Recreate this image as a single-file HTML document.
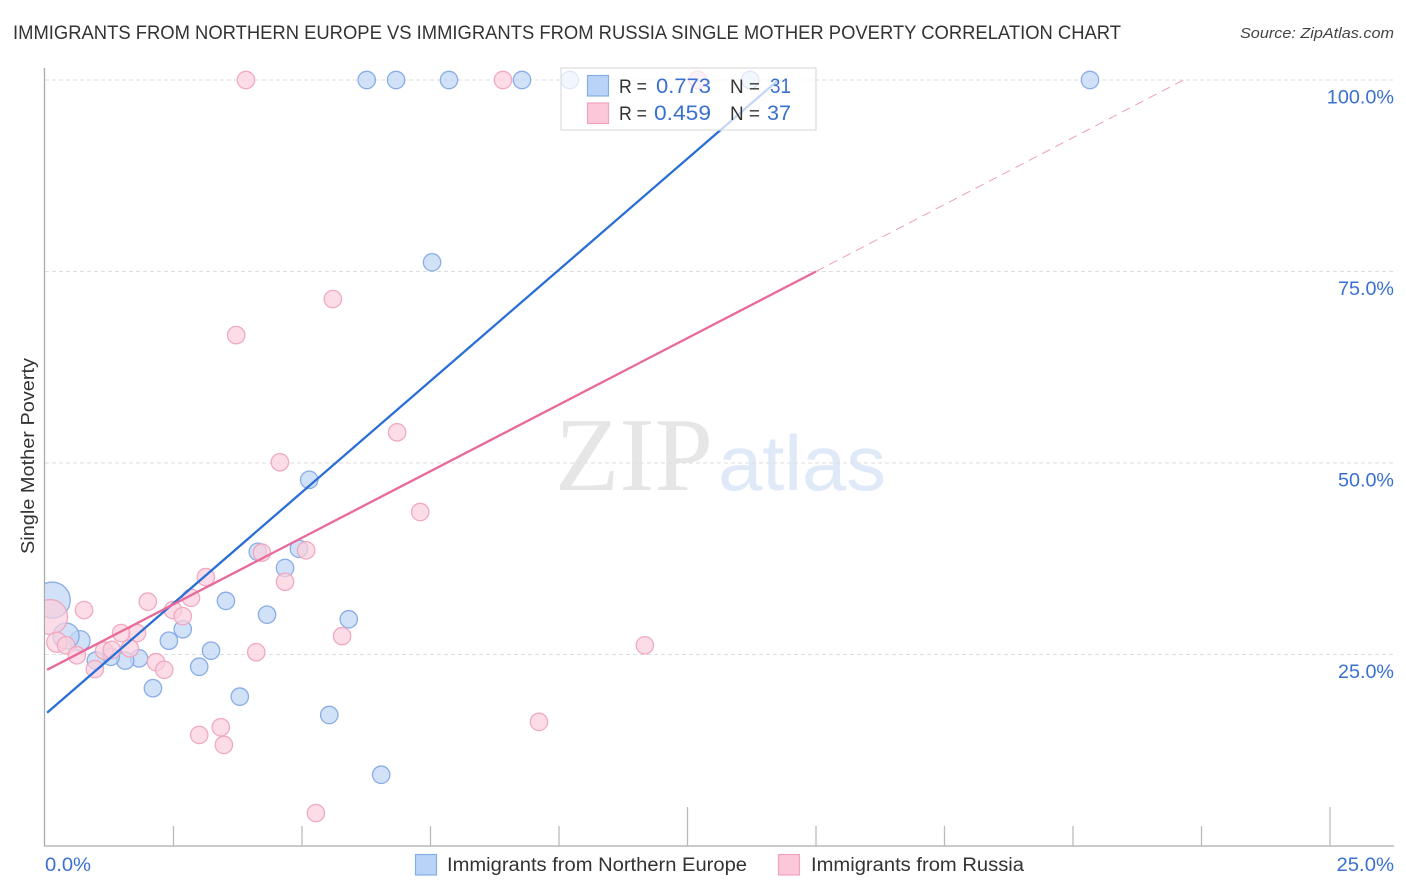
<!DOCTYPE html>
<html lang="en">
<head>
<meta charset="utf-8">
<title>Immigrants from Northern Europe vs Immigrants from Russia Single Mother Poverty Correlation Chart</title>
<style>
html,body{margin:0;padding:0;background:#fff;}
svg{display:block;font-family:"Liberation Sans",sans-serif;}
</style>
</head>
<body>
<svg id="chart" xmlns="http://www.w3.org/2000/svg" width="1406" height="892" viewBox="0 0 1406 892">
  <defs>
    <clipPath id="plot-clip"><rect x="45" y="60" width="1349" height="786"></rect></clipPath>
  </defs>
  <rect x="0" y="0" width="1406" height="892" fill="#ffffff"></rect>
  <text x="13" y="39" font-size="19" fill="#333333" textLength="1108" lengthAdjust="spacingAndGlyphs">IMMIGRANTS FROM NORTHERN EUROPE VS IMMIGRANTS FROM RUSSIA SINGLE MOTHER POVERTY CORRELATION CHART</text>
  <text x="1394" y="38" font-size="15" font-style="italic" fill="#444444" text-anchor="end" textLength="154" lengthAdjust="spacingAndGlyphs">Source: ZipAtlas.com</text>
  <g>
    <text x="555" y="490" font-family="'Liberation Serif',serif" font-size="105" fill="#e6e6e6" textLength="158" lengthAdjust="spacingAndGlyphs">ZIP</text>
    <text x="718" y="490" font-size="78" fill="#dfe9f8" textLength="168" lengthAdjust="spacingAndGlyphs">atlas</text>
  </g>
  <g id="grid"></g>
  <g id="axes"></g>
  <g id="points" clip-path="url(#plot-clip)"></g>
  <g id="trends"></g>
  <g id="tick-labels"></g>
  <text transform="translate(34,456) rotate(-90)" font-size="18.5" fill="#333333" text-anchor="middle" textLength="196" lengthAdjust="spacingAndGlyphs">Single Mother Poverty</text>

  <g>
    <rect x="561" y="68" width="255" height="62" fill="#ffffff" fill-opacity="0.72" stroke="#dddddd" stroke-width="1.2"></rect>
    <rect x="587.5" y="75.5" width="21" height="20.5" fill="#b9d3f6" stroke="#86aee6" stroke-width="1.2"></rect>
    <rect x="587.5" y="103" width="21" height="20.5" fill="#fcc8d9" stroke="#f0a3bd" stroke-width="1.2"></rect>
    <text x="619" y="93" font-size="19" fill="#333333" textLength="28" lengthAdjust="spacingAndGlyphs">R =</text>
    <text x="656" y="93" font-size="21" fill="#3a70d0" textLength="55" lengthAdjust="spacingAndGlyphs">0.773</text>
    <text x="730" y="93" font-size="19" fill="#333333" textLength="30" lengthAdjust="spacingAndGlyphs">N =</text>
    <text x="770" y="93" font-size="21" fill="#3a70d0" textLength="21" lengthAdjust="spacingAndGlyphs">31</text>
    <text x="619" y="120" font-size="19" fill="#333333" textLength="28" lengthAdjust="spacingAndGlyphs">R =</text>
    <text x="654" y="120" font-size="21" fill="#3a70d0" textLength="57" lengthAdjust="spacingAndGlyphs">0.459</text>
    <text x="730" y="120" font-size="19" fill="#333333" textLength="30" lengthAdjust="spacingAndGlyphs">N =</text>
    <text x="767" y="120" font-size="21" fill="#3a70d0" textLength="24" lengthAdjust="spacingAndGlyphs">37</text>
  </g>

  <g>
    <g>
      <rect x="415.5" y="854.5" width="21" height="20.5" fill="#b9d3f6" stroke="#86aee6" stroke-width="1.2"></rect>
      <text x="447" y="871" font-size="19" fill="#333333" textLength="300" lengthAdjust="spacingAndGlyphs">Immigrants from Northern Europe</text>
    </g>
    <g>
      <rect x="778.5" y="854.5" width="21" height="20.5" fill="#fcc8d9" stroke="#f0a3bd" stroke-width="1.2"></rect>
      <text x="811" y="871" font-size="19" fill="#333333" textLength="213" lengthAdjust="spacingAndGlyphs">Immigrants from Russia</text>
    </g>
  </g>
</svg>
<script>
const blueX = [6.26,6.83,7.86,9.28,10.21,12.70,13.72,20.33,7.53,5.14,4.14,4.94,4.67,3.52,4.32,5.91,2.68,2.41,3.23,3.00,1.83,1.56,1.28,0.99,0.68,0.41,0.14,2.10,3.79,5.53,6.54];
const blueY = [100,100,100,100,100,100,100,100,76.2,47.8,38.4,38.8,36.3,32.0,30.2,29.6,28.3,26.8,25.5,23.4,24.5,24.2,24.7,24.2,26.8,27.4,32.1,20.6,19.5,17.1,9.3];
const blueWeight = [1,1,1,1,1,1,1,1,1,1,1,1,1,1,1,1,1,1,1,1,1,1,1,1,1.35,2.25,4.3,1,1,1,1];

const pinkX = [3.91,8.91,12.70,5.60,3.72,6.85,4.57,7.30,4.22,5.08,4.67,3.13,2.84,2.00,0.76,2.49,2.68,1.79,1.48,5.78,11.67,4.11,0.10,0.23,0.41,0.62,0.97,1.15,1.30,1.65,2.16,2.32,3.00,3.42,3.48,5.27,9.61];
const pinkY = [100,100,100,71.4,66.7,54.0,50.1,43.6,38.3,38.6,34.5,35.1,32.4,31.9,30.8,30.8,30.0,27.8,27.8,27.4,26.2,25.3,29.9,26.6,26.2,24.9,23.1,25.5,25.6,25.8,24.0,23.0,14.5,15.5,13.2,4.3,16.2];
const pinkWeight = [1,1,1,1,1,1,1,1,1,1,1,1,1,1,1,1,1,1,1,1,1,1,4,1.35,1,1,1,1,1,1,1,1,1,1,1,1,1];

const blueTrendX = [0.04,14.25];
const blueTrendY = [17.4,99.9];
const pinkTrendX = [0.04,15];
const pinkTrendY = [23.0,75];
const pinkDashX = [15,22.15];
const pinkDashY = [75,100];

const yTicks = [25,50,75,100];
const yTickLabels = ["25.0%","50.0%","75.0%","100.0%"];
const xTicks = [2.5,5,7.5,10,12.5,15,17.5,20,22.5,25];
const xMajorTicks = [12.5,25];
const xEndTicks = [0,25];
const xEndLabels = ["0.0%","25.0%"];

const NS = "http://www.w3.org/2000/svg";
function xScale(v){ return 45 + v * 51.4; }
function yScale(v){ return 846 - v * 7.66; }
function rScale(w){ return 8.7 * Math.sqrt(w); }
function make(tag, attrs, parent){
  const el = document.createElementNS(NS, tag);
  for (const k in attrs) el.setAttribute(k, attrs[k]);
  parent.appendChild(el);
  return el;
}

const grid = document.getElementById("grid");
yTicks.forEach(function(t){
  const el = make("line", {x1:45, x2:1394, y1:yScale(t), y2:yScale(t), stroke:"#dedede", "stroke-width":1, "stroke-dasharray":"4 3"}, grid);
  
  
});

const axes = document.getElementById("axes");
const yAxisLine = make("line", {x1:44.5, x2:44.5, y1:68, y2:846.5, stroke:"#aaaaaa", "stroke-width":1.3}, axes);


const xAxisLine = make("line", {x1:44, x2:1394, y1:846, y2:846, stroke:"#aaaaaa", "stroke-width":1.3}, axes);


xTicks.forEach(function(t){
  const top = xMajorTicks.indexOf(t) >= 0 ? 807 : 826;
  const el = make("line", {x1:xScale(t), x2:xScale(t), y1:top, y2:846, stroke:"#bbbbbb", "stroke-width":1.3}, axes);
  
  
});

const pointsG = document.getElementById("points");
function drawSeries(xs, ys, ws, fill, stroke, name){
  xs.forEach(function(v, i){
    const c = make("circle", {cx:xScale(v), cy:yScale(ys[i]), r:rScale(ws[i]), fill:fill, "fill-opacity":0.72, stroke:stroke, "stroke-width":1.3, "stroke-opacity":0.9}, pointsG);
    
    
  });
}
drawSeries(blueX, blueY, blueWeight, "#bfd6f5", "#7ea6e2", "point-northern-europe");
drawSeries(pinkX, pinkY, pinkWeight, "#fbcfdd", "#eda3bd", "point-russia");

const trends = document.getElementById("trends");
const blueLine = make("line", {x1:xScale(blueTrendX[0]), y1:yScale(blueTrendY[0]), x2:xScale(blueTrendX[1]), y2:yScale(blueTrendY[1]), stroke:"#2a6fd6", "stroke-width":2.3}, trends);


const pinkLine = make("line", {x1:xScale(pinkTrendX[0]), y1:yScale(pinkTrendY[0]), x2:xScale(pinkTrendX[1]), y2:yScale(pinkTrendY[1]), stroke:"#e8699a", "stroke-width":2.3}, trends);


const pinkDash = make("line", {x1:xScale(pinkDashX[0]), y1:yScale(pinkDashY[0]), x2:xScale(pinkDashX[1]), y2:yScale(pinkDashY[1]), stroke:"#eba0bb", "stroke-width":1, "stroke-dasharray":"9 6"}, trends);



const tickLabels = document.getElementById("tick-labels");
yTicks.forEach(function(t, i){
  const label = yTickLabels[i];
  const el = make("text", {x:1394, y:yScale(t) + 23.5, "font-size":19.5, fill:"#3a70d0", "text-anchor":"end", textLength:label.length * 11.2, lengthAdjust:"spacingAndGlyphs"}, tickLabels);
  el.textContent = label;
  
  
});
xEndTicks.forEach(function(t, i){
  const label = xEndLabels[i];
  const el = make("text", {x:i === 0 ? xScale(t) : 1394, y:871, "font-size":19.5, fill:"#3a70d0", "text-anchor":i === 0 ? "start" : "end", textLength:label.length * 11.5, lengthAdjust:"spacingAndGlyphs"}, tickLabels);
  el.textContent = label;
  
  
});
</script>
</body>
</html>
